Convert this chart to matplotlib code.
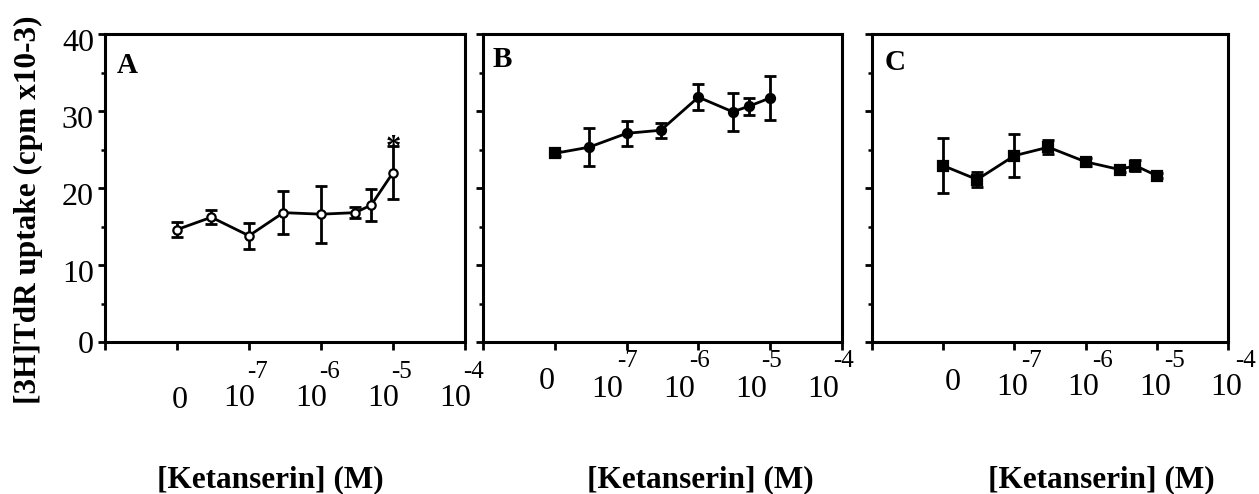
import matplotlib
matplotlib.use('Agg')
import matplotlib.pyplot as plt
from matplotlib.transforms import offset_copy, ScaledTranslation
import numpy as np

plt.rcParams['font.family'] = ['Liberation Serif', 'DejaVu Serif']

# ---------------- data ----------------
# Ketanserin concentrations (M); the control (0 M) is drawn at the "0" position
concentrations = [0, 3e-8, 1e-7, 3e-7, 1e-6, 3e-6, 5e-6, 1e-5]
control_pos = -8
x_ticks = [-9, -8, -7, -6, -5, -4]
x_tick_zero = '0'
x_tick_exponents = ['-7', '-6', '-5', '-4']
y_ticks = [0, 10, 20, 30, 40]

A_y = [14.6, 16.2, 13.8, 16.8, 16.6, 16.8, 17.8, 22.0]
A_err = [1.0, 0.9, 1.7, 2.8, 3.7, 0.7, 2.1, 3.4]
B_y = [24.5, 25.3, 27.1, 27.5, 31.8, 29.9, 30.6, 31.7]
B_err = [0.3, 2.5, 1.6, 1.0, 1.7, 2.5, 1.15, 2.9]
C_y = [22.9, 21.1, 24.2, 25.3, 23.4, 22.4, 22.9, 21.6]
C_err = [3.6, 1.0, 2.75, 0.9, 0.5, 0.3, 0.7, 0.3]

panel_letters = ['A', 'B', 'C']
significant_A = [False, False, False, False, False, False, False, True]

y_label = '[3H]TdR uptake (cpm x10-3)'
x_label = '[Ketanserin] (M)'

x_pos = [control_pos if c == 0 else np.log10(c) for c in concentrations]

# ---------------- layout ----------------
W, H = 1259, 494
fig = plt.figure(figsize=(W / 100, H / 100), dpi=100)

axes_px = [(105, 465), (483, 842), (872, 1228)]
top_px, bot_px = 34, 342

# per-panel marker styles
markers = [
    ['o'] * 8,
    ['s'] + ['o'] * 7,
    ['s'] * 8,
]
marker_face = ['white', 'black', 'black']
marker_size = [6, 6.5, 7]

# per-panel x tick label offsets (dots)
lab_off = [
    dict(zdx=3, tdx=6, edx=-2, zb=408, tb=406, eb=378),
    dict(zdx=-8, tdx=-3, edx=-9, zb=389, tb=397, eb=367),
    dict(zdx=10, tdx=14, edx=7, zb=390, tb=395, eb=367),
]
letter_off = [(12, 73), (10, 67), (13, 70)]
xlabel_cx = [270, 700, 1101]

series = [(A_y, A_err), (B_y, B_err), (C_y, C_err)]

TICK_FS = 23
EXP_FS = 18
LW = 2.2
for i, ((l, r), (yv, ye)) in enumerate(zip(axes_px, series)):
    ax = fig.add_axes([l / W, 1 - bot_px / H, (r - l) / W, (bot_px - top_px) / H])
    ax.set_xlim(-9, -4)
    ax.set_ylim(0, 40)
    for s in ax.spines.values():
        s.set_linewidth(LW)
    ax.set_xticks(x_ticks)
    ax.set_xticklabels([])
    ax.set_yticks(y_ticks)
    ax.set_yticks([5, 15, 25, 35], minor=True)
    ax.tick_params(axis='x', direction='out', length=6, width=2, bottom=True, top=False)
    ax.tick_params(axis='y', which='major', direction='out', length=5, width=2, right=False)
    ax.tick_params(axis='y', which='minor', direction='out', length=3, width=1.8, right=False)
    if i == 0:
        ax.set_yticklabels([str(v) for v in y_ticks], fontsize=TICK_FS)
        ax.tick_params(axis='y', pad=3)
        for lab, v in zip(ax.get_yticklabels(), y_ticks):
            if v != 0:
                lab.set_transform(lab.get_transform() + ScaledTranslation(0, -6 / 100, fig.dpi_scale_trans))
    else:
        ax.set_yticklabels([])

    # data
    ax.errorbar(x_pos, yv, yerr=ye, fmt='none', ecolor='black', elinewidth=2.0,
                capsize=4, capthick=2.0, zorder=2)
    ax.plot(x_pos, yv, '-', color='black', lw=2.0, zorder=3)
    for xp, yp, m in zip(x_pos, yv, markers[i]):
        ax.plot([xp], [yp], marker=m, ms=marker_size[i], mfc=marker_face[i], mec='black',
                mew=1.6, color='black', zorder=4)

    if i == 0:
        for xp, yp, e, sig in zip(x_pos, yv, ye, significant_A):
            if sig:
                t = offset_copy(ax.transData, fig=fig, x=0, y=-10, units='dots')
                ax.text(xp, yp + e, '*', transform=t, ha='center', va='baseline',
                        fontsize=22, fontweight='bold')

    # panel letter
    dx, base = letter_off[i]
    t = offset_copy(ax.transAxes, fig=fig, x=dx, y=-(base - top_px), units='dots')
    ax.text(0, 1, panel_letters[i], transform=t, ha='left', va='baseline',
            fontsize=21, fontweight='bold')

    # x tick labels: "0" and 10^exponent
    o = lab_off[i]
    xt = ax.get_xaxis_transform()
    ax.text(x_ticks[1], 0, x_tick_zero,
            transform=offset_copy(xt, fig=fig, x=o['zdx'], y=-(o['zb'] - bot_px), units='dots'),
            ha='center', va='baseline', fontsize=TICK_FS, clip_on=False)
    for xt_pos, ex in zip(x_ticks[2:], x_tick_exponents):
        ax.text(xt_pos, 0, '10',
                transform=offset_copy(xt, fig=fig, x=o['tdx'], y=-(o['tb'] - bot_px), units='dots'),
                ha='right', va='baseline', fontsize=TICK_FS, clip_on=False)
        ax.text(xt_pos, 0, ex,
                transform=offset_copy(xt, fig=fig, x=o['edx'], y=-(o['eb'] - bot_px), units='dots'),
                ha='left', va='baseline', fontsize=EXP_FS, clip_on=False)

    fig.text(xlabel_cx[i] / W, 1 - 480 / H, x_label, ha='center', va='center',
             fontsize=22.5, fontweight='bold')

fig.text(28 / W, 1 - 210 / H, y_label, rotation=90, ha='center', va='center',
         fontsize=22.5, fontweight='bold')

fig.savefig('out.png', dpi=100)
